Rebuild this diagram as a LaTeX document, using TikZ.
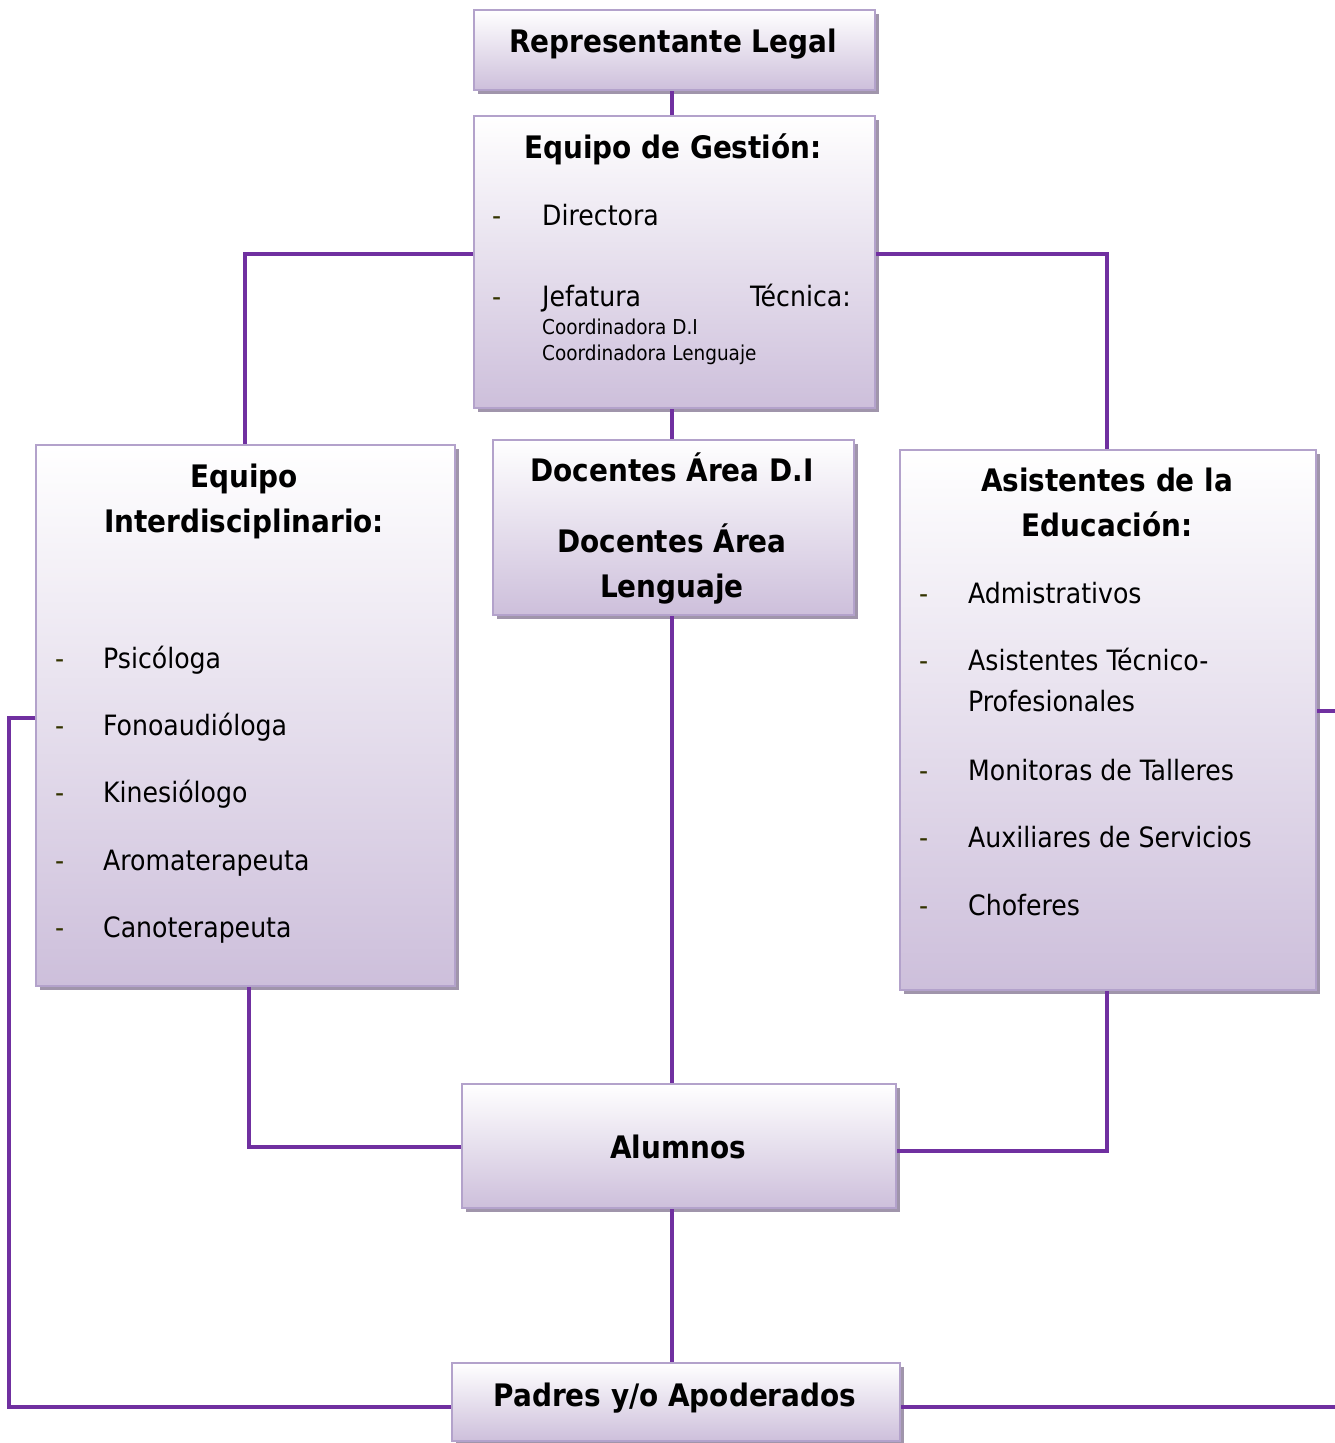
\documentclass[tikz,border=0pt]{standalone}
\usepackage{fontspec}
\setmainfont{DejaVu Sans Condensed}
\usetikzlibrary{shadows}
\definecolor{lnc}{HTML}{7030A0}
\definecolor{boxbot}{HTML}{CDBFDB}
\definecolor{boxbd}{HTML}{B3A2CB}
\definecolor{shc}{HTML}{A095AB}
\definecolor{dashc}{HTML}{333300}
\begin{document}
\begin{tikzpicture}[x=1pt,y=-1pt,
  box/.style={draw=boxbd, line width=2.2pt, top color=white, bottom color=boxbot,
    inner sep=0pt, anchor=north west,
    drop shadow={shadow xshift=4pt, shadow yshift=-4pt, fill=shc, opacity=1}},
  conn/.style={draw=lnc, line width=3.4pt},
  ttl/.style={inner sep=0pt, anchor=base, font=\bfseries\fontsize{31}{37}\selectfont},
  itm/.style={inner sep=0pt, anchor=base west, font=\fontsize{28}{33}\selectfont},
  sml/.style={inner sep=0pt, anchor=base west, font=\fontsize{20.5}{24}\selectfont},
  dsh/.style={inner sep=0pt, anchor=base west, text=dashc, font=\fontsize{28}{33}\selectfont}]
\useasboundingbox (0,0) rectangle (1334,1443);
% boxes
\node[box, minimum width=401pt, minimum height=80pt] (rl) at (473,9) {};
\node[box, minimum width=401pt, minimum height=292pt] (eg) at (473,115) {};
\node[box, minimum width=361pt, minimum height=175pt] (doc) at (492,439) {};
\node[box, minimum width=419pt, minimum height=541pt] (ei) at (35,444) {};
\node[box, minimum width=416pt, minimum height=540pt] (ae) at (899,449) {};
\node[box, minimum width=434pt, minimum height=124pt] (al) at (461,1083) {};
\node[box, minimum width=448pt, minimum height=78pt] (pa) at (451,1362) {};
% connectors
\coordinate (rgt1) at (1336,711);
\coordinate (rgt2) at (1336,1407);
\draw[conn] (rl.south -| 672,0) -- (eg.north -| 672,0);
\draw[conn] (eg.west |- 0,254) -| (ei.north -| 245,0);
\draw[conn] (eg.east |- 0,254) -| (ae.north -| 1107,0);
\draw[conn] (eg.south -| 672,0) -- (doc.north -| 672,0);
\draw[conn] (doc.south -| 672,0) -- (al.north -| 672,0);
\draw[conn] (ei.south -| 249,0) |- (al.west |- 0,1147);
\draw[conn] (ae.south -| 1107,0) |- (al.east |- 0,1151);
\draw[conn] (al.south -| 672,0) -- (pa.north -| 672,0);
\draw[conn] (ei.west |- 0,718) -| (9,1407) -- (pa.west |- 0,1407);
\draw[conn] (ae.east |- 0,711) -- (rgt1);
\draw[conn] (pa.east |- 0,1407) -- (rgt2);
% texts
\node[ttl] (trl) at (673,52) {Representante Legal};
\node[ttl] (teg) at (673,158) {Equipo de Gestión:};
\node[dsh] (d1) at (492,225) {-};
\node[itm] (t1) at (542,225) {Directora};
\node[dsh] (d2) at (492,306) {-};
\node[itm] (t2) at (542,306) {Jefatura};
\node[itm, anchor=base east] (t3) at (851,306) {Técnica:};
\node[sml] (t4) at (542,334) {Coordinadora D.I};
\node[sml] (t5) at (542,360) {Coordinadora Lenguaje};
\node[ttl] (td1) at (672,481) {Docentes Área D.I};
\node[ttl] (td2) at (672,552) {Docentes Área};
\node[ttl] (td3) at (672,597) {Lenguaje};
\node[ttl] (tei1) at (244,487) {Equipo};
\node[ttl] (tei2) at (244,532) {Interdisciplinario:};
\node[dsh] (e1d) at (55,668) {-};
\node[itm] (e1) at (103,668) {Psicóloga};
\node[dsh] (e2d) at (55,735) {-};
\node[itm] (e2) at (103,735) {Fonoaudióloga};
\node[dsh] (e3d) at (55,802) {-};
\node[itm] (e3) at (103,802) {Kinesiólogo};
\node[dsh] (e4d) at (55,870) {-};
\node[itm] (e4) at (103,870) {Aromaterapeuta};
\node[dsh] (e5d) at (55,937) {-};
\node[itm] (e5) at (103,937) {Canoterapeuta};
\node[ttl] (tae1) at (1107,491) {Asistentes de la};
\node[ttl] (tae2) at (1107,536) {Educación:};
\node[dsh] (a1d) at (919,603) {-};
\node[itm] (a1) at (968,603) {Admistrativos};
\node[dsh] (a2d) at (919,670) {-};
\node[itm] (a2) at (968,670) {Asistentes Técnico-};
\node[itm] (a2b) at (968,711) {Profesionales};
\node[dsh] (a3d) at (919,780) {-};
\node[itm] (a3) at (968,780) {Monitoras de Talleres};
\node[dsh] (a4d) at (919,847) {-};
\node[itm] (a4) at (968,847) {Auxiliares de Servicios};
\node[dsh] (a5d) at (919,915) {-};
\node[itm] (a5) at (968,915) {Choferes};
\node[ttl] (tal) at (678,1158) {Alumnos};
\node[ttl] (tpa) at (675,1406) {Padres y/o Apoderados};
\end{tikzpicture}
\end{document}
